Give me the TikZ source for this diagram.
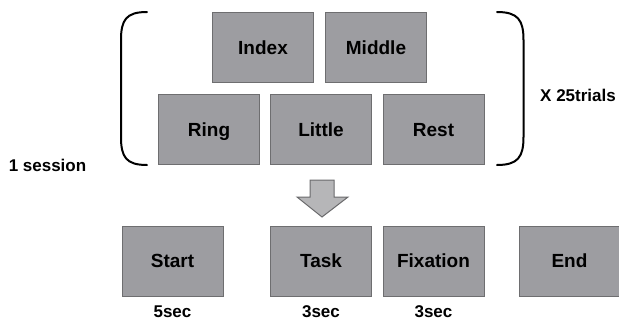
\documentclass[tikz,border=0pt]{standalone}
\usepackage{fontspec}
\setmainfont{Liberation Sans}
\begin{document}
\begin{tikzpicture}[x=1pt,y=-1pt,
  trialbox/.style={draw=boxline,fill=boxfill,line width=1pt,
    minimum width=101pt,minimum height=70pt,inner sep=0pt,
    text height=17pt,text depth=3.4pt,
    font=\fontsize{19}{22}\selectfont\bfseries},
  timelabel/.style={inner sep=0pt,text height=15pt,text depth=2.8pt,
    font=\fontsize{17}{20}\selectfont\bfseries},
  brace/.style={draw=black,line width=2pt,line cap=round},
  blockarrow/.style={draw=arrowline,fill=arrowfill,line width=1pt,line join=miter}]
\definecolor{boxfill}{HTML}{9D9DA1}
\definecolor{boxline}{HTML}{6E6E70}
\definecolor{arrowfill}{HTML}{B6B6B8}
\definecolor{arrowline}{HTML}{6A6A6C}
\useasboundingbox (0,0) rectangle (619,322);

% one trial: the five finger/rest conditions
\node[trialbox] (index)  at (263,47.5)  {Index};
\node[trialbox] (middle) at (376,47.5)  {Middle};
\node[trialbox] (ring)   at (209,129.5) {Ring};
\node[trialbox] (little) at (321,129.5) {Little};
\node[trialbox] (rest)   at (433.5,129.5) {Rest};

% brackets around the trial
\draw[brace] (147,12) .. controls (126,12) and (121,20) .. (121,40)
  -- (121,137) .. controls (121,157) and (126,165) .. (147,165);
\draw[brace] (497,12) .. controls (518,12) and (523.5,20) .. (523.5,40)
  -- (523.5,137) .. controls (523.5,157) and (518,165) .. (497,165);

\node[timelabel] (trials)  at (578,95)  {X 25trials};
\node[timelabel] (session) at (47.5,165) {1 session};

% session timeline
\node[trialbox] (start)    at (172.5,261) {Start};
\node[trialbox] (task)     at (321,261)   {Task};
\node[trialbox] (fixation) at (433.5,261) {Fixation};
\node[trialbox] (end)      at (569.5,261) {End};

\node[timelabel] (t5)  at (172.5,311) {5sec};
\node[timelabel] (t3a) at (321,311)   {3sec};
\node[timelabel] (t3b) at (433.5,311) {3sec};

% block arrow from the trial down to the task
\coordinate (atop) at (322,180);
\coordinate (atip) at (322,217);
\draw[blockarrow] ([xshift=-12pt]atop) -- ([xshift=12pt]atop)
  -- ([xshift=12pt,yshift=20pt]atip) -- ([xshift=26pt,yshift=20pt]atip)
  -- (atip) -- ([xshift=-25pt,yshift=20pt]atip)
  -- ([xshift=-12pt,yshift=20pt]atip) -- cycle;
\end{tikzpicture}
\end{document}
